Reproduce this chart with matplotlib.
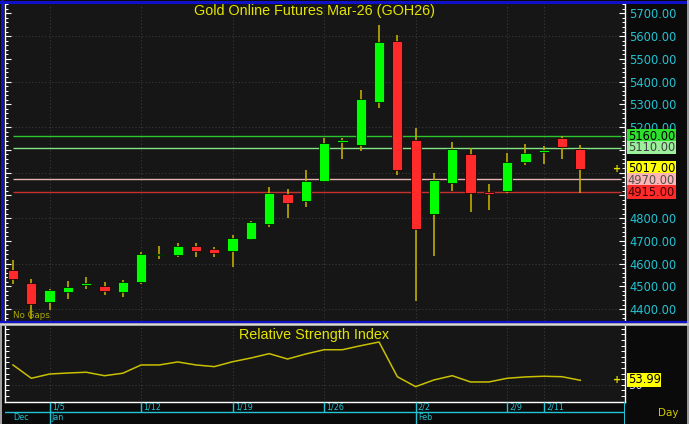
import numpy as np
import matplotlib
matplotlib.use('Agg')
import matplotlib.pyplot as plt
from matplotlib.lines import Line2D
from matplotlib.ticker import MultipleLocator, FuncFormatter
import matplotlib.transforms as mtrans

## Canvas size in pixels
W, H = 689, 424

## Daily OHLC, Gold Mar-26 (one bar per trading day, Dec 31 .. Feb 13)
opens = [4570, 4513, 4430, 4474, 4507, 4501, 4474, 4519, 4636, 4639, 4677, 4663, 4655, 4706, 4775, 4907,
         4875, 4964, 5134, 5121, 5310, 5577, 5144, 4816, 4953, 5083, 4910, 4920, 5045, 5089, 5153, 5103]
highs = [4616, 4531, 4490, 4522, 4541, 4517, 4526, 4651, 4677, 4690, 4690, 4671, 4725, 4786, 4935, 4926,
         5011, 5153, 5153, 5363, 5647, 5603, 5197, 4997, 5136, 5109, 4948, 5085, 5124, 5117, 5162, 5121]
lows = [4510, 4358, 4396, 4443, 4487, 4463, 4454, 4511, 4619, 4627, 4627, 4627, 4583, 4702, 4759, 4801,
        4850, 4960, 5058, 5093, 5282, 4989, 4437, 4633, 4919, 4828, 4835, 4909, 5033, 5036, 5058, 4911]
closes = [4531, 4422, 4485, 4497, 4514, 4479, 4520, 4642, 4642, 4677, 4655, 4648, 4714, 4783, 4910, 4865,
          4963, 5129, 5143, 5323, 5574, 5012, 4750, 4967, 5103, 4909, 4905, 5046, 5087, 5098, 5112, 5017]

## RSI values
rsi = [67.7, 55.8, 59.6, 60.5, 61.2, 58.1, 60.3, 67.7, 67.7, 70.4, 67.7, 66.2, 70.6, 73.9, 77.8, 73.0,
       77.5, 81.3, 81.3, 84.9, 88.2, 57.2, 48.3, 54.3, 58.1, 52.5, 52.5, 55.8, 57.0, 57.6, 57.2, 53.99]

## Date axis
tick_pos = [2, 7, 12, 17, 22, 27, 29]
tick_lbl = ['1/5', '1/12', '1/19', '1/26', '2/2', '2/9', '2/11']
month_pos = [0, 2, 22]
month_lbl = ['Dec', 'Jan', 'Feb']

## Horizontal levels and their label colours
levels = [5160, 5110, 4970, 4915]
level_line = ['#2ec42e', '#86e486', '#e8b4b4', '#c83030']
labels = [5160, 5110, 5017, 4970, 4915]
label_y = [5160, 5110, 5019, 4966, 4913]
label_bg = ['#2ee02e', '#9cf09c', '#ffff00', '#ffb4b4', '#ff2a2a']
label_fg = ['#000000', '#404040', '#000000', '#505050', '#400000']
hidden_ticks = [4900, 5000, 5100]   # covered by the level boxes

BG = '#161616'
CYAN = '#22c4d4'
YEL = '#e4e400'
WICK = '#c0ac00'

fig = plt.figure(figsize=(W / 100, H / 100), dpi=100, facecolor='#0a0a0a')

def fx(x):
    return x / W

def fy(y):
    return 1 - y / H

## Main price panel
ax = fig.add_axes([fx(5), fy(321), fx(620), (321 - 4) / H])
ax.set_facecolor(BG)
ax.set_xlim(-0.437, 33.44)
ax.set_ylim(4347.5, 5740.9)

for v in np.arange(4400, 5700, 200):
    ax.axhline(v, color='#3a3a3a', lw=0.8, ls=(0, (1, 2)), zorder=0)
for p in tick_pos:
    ax.axvline(p, color='#3a3a3a', lw=0.8, ls=(0, (1, 2)), zorder=0)

for lv, c in zip(levels, level_line):
    ax.hlines(lv, 0, 33.2, color=c, lw=1.0, zorder=1)

idx = np.arange(len(opens))
for i in idx:
    o, h, l, c = opens[i], highs[i], lows[i], closes[i]
    col = '#00ff00' if c >= o else '#ff2a2a'
    ax.vlines(i, l, h, color=WICK, lw=1.2, zorder=2)
    ax.bar(i, max(abs(c - o), 8), bottom=min(o, c), width=0.56, color=col,
           edgecolor='#000000', linewidth=0.5, zorder=3)

for s in ['top', 'bottom']:
    ax.spines[s].set_visible(False)
for s in ['left', 'right']:
    ax.spines[s].set_color('white')
    ax.spines[s].set_linewidth(1.0)
ax.set_xticks([])
ax.yaxis.set_major_locator(MultipleLocator(100))
ax.yaxis.set_minor_locator(MultipleLocator(20))
ax.yaxis.set_major_formatter(FuncFormatter(
    lambda v, pos: '' if round(v) in hidden_ticks else '%.2f' % v))
ax.tick_params(axis='y', which='both', left=True, right=True, labelleft=False, labelright=True,
               direction='in', color='white')
ax.tick_params(axis='y', which='major', length=4, width=0.8, labelcolor=CYAN, labelsize=8.3, pad=3)
ax.tick_params(axis='y', which='minor', length=2, width=0.7)

tr = mtrans.blended_transform_factory(ax.transAxes, ax.transData)
for v, yv, bg, fg in zip(labels, label_y, label_bg, label_fg):
    ax.text(1.0045, yv, '%.2f' % v, transform=tr, ha='left', va='center', fontsize=8.3, color=fg,
            bbox=dict(boxstyle='square,pad=0.04', fc=bg, ec='none'), clip_on=False, zorder=10)
ax.text(0.987, closes[-1], '+', transform=tr, ha='center', va='center', color=YEL,
        fontsize=7, fontweight='bold', zorder=10)

fig.text(fx(314.5), fy(11), 'Gold Online Futures Mar-26 (GOH26)', ha='center', va='center',
         color=YEL, fontsize=10.4, family='Liberation Sans')
fig.text(fx(13), fy(316), 'No Gaps', ha='left', va='center', color='#a8a800', fontsize=6.3)

## RSI panel
ar = fig.add_axes([fx(5), fy(402), fx(620), (402 - 326) / H])
ar.set_facecolor(BG)
ar.set_xlim(-0.437, 33.44)
ar.set_ylim(34.6, 102.5)
ar.axhline(50, color='#3a3a3a', lw=0.8, ls=(0, (1, 2)), zorder=0)
for p in tick_pos:
    ar.axvline(p, color='#3a3a3a', lw=0.8, ls=(0, (1, 2)), zorder=0)
ar.plot(idx, rsi, color='#c8c000', lw=1.1, zorder=3)
ar.spines['top'].set_visible(False)
for s in ['left', 'right', 'bottom']:
    ar.spines[s].set_color('white')
    ar.spines[s].set_linewidth(1.0)
ar.set_xticks([])
ar.yaxis.set_major_locator(MultipleLocator(5))
ar.tick_params(axis='y', which='both', left=True, right=True, labelleft=False, labelright=False,
               direction='in', color='white', length=3, width=0.7)
trr = mtrans.blended_transform_factory(ar.transAxes, ar.transData)
ar.text(1.0045, 49, '50', transform=trr, ha='left', va='center', fontsize=8.3, color='#c8d0ff',
        clip_on=False, zorder=9)
ar.text(1.0045, rsi[-1] + 0.5, '%.2f' % rsi[-1], transform=trr, ha='left', va='center', fontsize=8.3,
        color='#000000', bbox=dict(boxstyle='square,pad=0.06', fc='#ffff00', ec='none'),
        clip_on=False, zorder=10)
ar.text(0.987, rsi[-1], '+', transform=trr, ha='center', va='center', color=YEL,
        fontsize=7, fontweight='bold', zorder=10)
fig.text(fx(314), fy(335), 'Relative Strength Index', ha='center', va='center',
         color=YEL, fontsize=10.4, family='Liberation Sans')

## Date strip
ad = fig.add_axes([fx(5), 0, fx(620), 22 / H])
ad.set_facecolor('#0a0a0a')
ad.set_xlim(-0.437, 33.44)
ad.set_ylim(0, 22)
ad.axis('off')
ad.axhline(12, color=CYAN, lw=1.0)
ad.axvline(33.44, color=CYAN, lw=1.4)
for p, t in zip(tick_pos, tick_lbl):
    top = 0 if p in month_pos else 12
    ad.vlines(p, top, 22, color=CYAN, lw=1.0)
    ad.text(p + 0.12, 17, t, color=CYAN, fontsize=5.8, ha='left', va='center')
for p, t in zip(month_pos, month_lbl):
    ad.text(p + (0 if p == 0 else 0.12), 6.5, t, color=CYAN, fontsize=5.8, ha='left', va='center')

fig.text(fx(668), fy(413), 'Day', ha='center', va='center', color='#d0c800', fontsize=7.5)

## Window borders
def hline(y, x0, x1, color, lw):
    fig.add_artist(Line2D([fx(x0), fx(x1)], [fy(y), fy(y)], color=color, lw=lw, zorder=20))

def vline(x, y0, y1, color, lw):
    fig.add_artist(Line2D([fx(x), fx(x)], [fy(y0), fy(y1)], color=color, lw=lw, zorder=20))

hline(1.5, 0, W, '#1010c8', 2.2)
vline(1.5, 0, 322, '#1010c8', 2.2)
hline(321.5, 0, W, '#1010c8', 1.6)
hline(324, 0, W, '#d8d8d8', 1.8)
vline(0.7, 325, H, '#c0c0c0', 1.2)
vline(688, 0, H, '#b8b8b8', 1.2)

fig.savefig('out.png', dpi=100, facecolor=fig.get_facecolor())
